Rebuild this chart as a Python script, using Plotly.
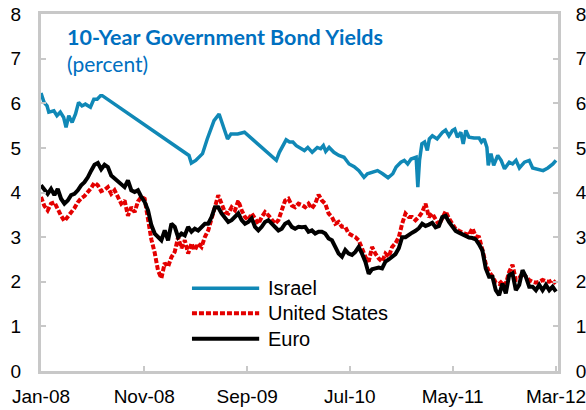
import pandas as pd
import plotly.graph_objects as go

# ---- data -----------------------------------------------------------------
# Israel: observations (note the missing stretch from mid-2008 to early 2009)
israel_dates = [
    "2008-01-01", "2008-01-10", "2008-01-19", "2008-01-24", "2008-02-08", "2008-02-17",
    "2008-02-27", "2008-03-08", "2008-03-15", "2008-03-23", "2008-04-02", "2008-04-12",
    "2008-04-21", "2008-05-01", "2008-05-11", "2008-05-26", "2008-06-05", "2008-06-15",
    "2008-06-25", "2008-06-30", "2009-03-13", "2009-03-20", "2009-04-02", "2009-04-22",
    "2009-05-06", "2009-05-26", "2009-06-10", "2009-06-20", "2009-07-05", "2009-07-15",
    "2009-08-04", "2009-08-24", "2009-10-02", "2009-11-11", "2009-11-26", "2009-12-05",
    "2009-12-15", "2009-12-25", "2010-01-04", "2010-01-14", "2010-01-24", "2010-02-03",
    "2010-02-17", "2010-02-27", "2010-03-12", "2010-03-27", "2010-04-06", "2010-04-14",
    "2010-04-21", "2010-05-01", "2010-05-15", "2010-05-30", "2010-06-14", "2010-06-29",
    "2010-07-14", "2010-07-28", "2010-08-12", "2010-08-22", "2010-09-07", "2010-09-21",
    "2010-10-06", "2010-10-22", "2010-11-05", "2010-11-15", "2010-11-29", "2010-12-09",
    "2010-12-19", "2010-12-29", "2011-01-13", "2011-01-18", "2011-01-23", "2011-01-30",
    "2011-02-07", "2011-02-15", "2011-02-21", "2011-03-02", "2011-03-16", "2011-04-01",
    "2011-04-10", "2011-04-20", "2011-04-30", "2011-05-07", "2011-05-15", "2011-05-25",
    "2011-06-01", "2011-06-09", "2011-06-18", "2011-07-03", "2011-07-18", "2011-07-25",
    "2011-08-02", "2011-08-10", "2011-08-14", "2011-08-22", "2011-08-30", "2011-09-11",
    "2011-09-21", "2011-10-01", "2011-10-15", "2011-10-25", "2011-11-04", "2011-11-14",
    "2011-11-29", "2011-12-13", "2011-12-23", "2012-01-08", "2012-01-23", "2012-02-06",
    "2012-02-21", "2012-03-01",
]
israel = [
    6.23, 6.02, 5.94, 5.80, 5.83, 5.72, 5.80, 5.68, 5.46, 5.72, 5.57, 5.76,
    6.02, 5.94, 5.98, 5.91, 6.09, 6.09, 6.17, 6.17, 4.83, 4.66, 4.72, 4.87,
    5.20, 5.61, 5.76, 5.54, 5.20, 5.31, 5.31, 5.35, 5.09, 4.83, 4.72, 4.90,
    5.05, 5.18, 5.13, 5.13, 5.05, 5.01, 4.94, 5.01, 4.90, 5.01, 4.98, 5.05,
    4.92, 5.01, 4.90, 4.83, 4.79, 4.64, 4.58, 4.49, 4.34, 4.42, 4.46, 4.49,
    4.42, 4.33, 4.42, 4.57, 4.68, 4.72, 4.64, 4.75, 4.79, 4.12, 4.72, 5.09,
    5.13, 4.94, 5.20, 5.27, 5.20, 5.35, 5.40, 5.27, 5.39, 5.42, 5.24, 5.35,
    5.09, 5.39, 5.24, 5.22, 5.22, 5.13, 5.20, 5.01, 4.61, 4.87, 4.61, 4.83,
    4.72, 4.53, 4.68, 4.64, 4.72, 4.55, 4.68, 4.72, 4.55, 4.51, 4.49, 4.55,
    4.64, 4.72,
]

# United States and Euro area: evenly spaced observations, Jan-2008 .. Mar-2012
sample_dates = pd.date_range("2008-01-01", "2012-03-01", periods=155)
united_states = [
    3.90, 3.70, 3.60, 3.75, 3.78, 3.62, 3.48, 3.36, 3.45, 3.54,
    3.65, 3.78, 3.87, 3.92, 4.00, 4.10, 4.22, 4.16, 4.03, 4.06,
    4.12, 3.97, 4.05, 3.92, 3.75, 3.82, 3.48, 3.67, 3.56, 3.80,
    3.90, 3.86, 3.40, 2.95, 2.65, 2.25, 2.08, 2.42, 2.34,
    2.55, 2.67, 3.00, 2.75, 2.93, 2.63, 2.86, 2.71, 2.86, 2.78,
    3.00, 3.15, 3.38, 3.67, 3.94, 3.75, 3.56, 3.53, 3.67, 3.60,
    3.82, 3.60, 3.45, 3.38, 3.53, 3.42, 3.30, 3.45, 3.56, 3.49,
    3.38, 3.30, 3.38, 3.60, 3.82, 3.86, 3.71, 3.67, 3.75,
    3.72,
    3.67, 3.75, 3.64, 3.75, 3.95, 3.82, 3.75, 3.53, 3.45, 3.30,
    3.34, 3.23, 3.23, 3.08, 3.04, 3.00, 2.93, 2.75, 2.56, 2.45,
    2.78, 2.63, 2.52, 2.45, 2.63, 2.56, 2.78, 2.86, 3.00, 3.30,
    3.53, 3.45, 3.45, 3.38, 3.45, 3.56, 3.75, 3.45,
    3.53, 3.40, 3.28, 3.42, 3.58, 3.42, 3.28, 3.18, 3.14, 3.10,
    3.07, 3.05, 3.20, 3.02, 3.00, 2.72, 2.40, 2.22, 2.12, 1.98,
    1.95, 2.02, 1.95, 2.22, 2.38, 2.04, 2.08, 2.19, 2.10, 2.04,
    2.00, 1.98, 2.00, 2.04, 2.01, 2.00, 2.04, 1.96,
]
euro = [
    4.16, 4.05, 3.97, 4.08, 3.94, 4.08, 3.86, 3.75, 3.82, 3.94,
    3.97, 4.05, 4.16, 4.23, 4.34, 4.49, 4.62, 4.66, 4.52, 4.62,
    4.57, 4.38, 4.31, 4.23, 4.16, 4.12, 4.27, 4.05, 4.01, 4.05,
    3.90, 3.79, 3.60, 3.27, 3.08, 3.00, 2.93, 3.15, 2.93,
    3.30, 3.23, 3.00, 3.08, 3.04, 3.23, 3.12, 3.19, 3.15, 3.23,
    3.30, 3.30, 3.45, 3.67, 3.67, 3.53, 3.42, 3.34, 3.38, 3.45,
    3.53, 3.38, 3.30, 3.34, 3.42, 3.23, 3.15, 3.23, 3.34, 3.38,
    3.30, 3.23, 3.15, 3.19, 3.30, 3.34, 3.23, 3.19, 3.23,
    3.22,
    3.23, 3.12, 3.15, 3.08, 3.12, 3.12, 3.08, 2.97, 2.93, 2.78,
    2.63, 2.56, 2.71, 2.63, 2.60, 2.67, 2.78, 2.63, 2.45, 2.18,
    2.28, 2.30, 2.32, 2.30, 2.45, 2.50, 2.56, 2.62, 2.75, 3.00,
    3.00, 3.06, 3.10, 3.14, 3.20, 3.30, 3.25, 3.28,
    3.32, 3.22, 3.25, 3.45, 3.48, 3.34, 3.22, 3.14, 3.10, 3.06,
    3.02, 2.99, 2.98, 2.95, 2.84, 2.70, 2.30, 2.11, 2.11, 1.81,
    1.70, 1.96, 1.74, 2.15, 2.19, 1.81, 1.93, 2.26, 2.11, 1.89,
    1.89, 1.81, 1.93, 1.81, 1.93, 1.81, 1.89, 1.78,
]

tick_dates = ["2008-01-01", "2008-11-01", "2009-09-01", "2010-07-01", "2011-05-01", "2012-03-01"]
tick_labels = ["Jan-08", "Nov-08", "Sep-09", "Jul-10", "May-11", "Mar-12"]
series_names = ["Israel", "United States", "Euro"]

# ---- styling ----------------------------------------------------------------
ISRAEL_BLUE = "#1088B6"
US_RED = "#E40000"
EURO_BLACK = "#000000"
TITLE_BLUE = "#0070C0"
FRAME_GREY = "#C8C8C8"
SANS = "Liberation Sans, Arial, sans-serif"
TITLE_FONT = "Lato, Carlito, Calibri, sans-serif"

line_styles = [
    dict(color=ISRAEL_BLUE, width=3.5),
    dict(color=US_RED, width=4, dash="5px,2px"),
    dict(color=EURO_BLACK, width=4),
]

fig = go.Figure()
fig.add_trace(go.Scatter(x=israel_dates, y=israel, mode="lines",
                         name=series_names[0], line=line_styles[0], showlegend=False))
fig.add_trace(go.Scatter(x=sample_dates, y=united_states, mode="lines",
                         name=series_names[1], line=line_styles[1], showlegend=False))
fig.add_trace(go.Scatter(x=sample_dates, y=euro, mode="lines",
                         name=series_names[2], line=line_styles[2], showlegend=False))


def axis_style(font_size, **extra):
    style = dict(
        showgrid=False, zeroline=False, automargin=False,
        showline=True, linecolor=FRAME_GREY, linewidth=3,
        ticks="inside", ticklen=5, tickwidth=2, tickcolor=FRAME_GREY,
        ticklabeloverflow="allow",
        tickfont=dict(family=SANS, size=font_size, color="#000000"),
    )
    style.update(extra)
    return style


fig.update_layout(
    width=586, height=410,
    margin=dict(l=41, r=28, t=14, b=39),
    paper_bgcolor="white", plot_bgcolor="white",
    xaxis=axis_style(
        19, mirror=True, type="date",
        range=["2008-01-01", "2012-03-07"],
        tickvals=tick_dates, ticktext=tick_labels,
        ticklabelstandoff=6,
    ),
    yaxis=axis_style(19, mirror=True, range=[0, 8], dtick=1, ticklabelstandoff=13),
    yaxis2=axis_style(19, overlaying="y", side="right", range=[0, 8], dtick=1,
                      ticklabelstandoff=11),
)

# keep the right-hand axis alive by attaching an invisible trace to it
fig.add_trace(go.Scatter(x=[tick_dates[0]], y=[0], yaxis="y2", mode="lines",
                         line=dict(width=0), hoverinfo="skip", showlegend=False))

# title block
fig.add_annotation(text="<b>10-Year Government Bond Yields</b>", xref="paper", yref="paper",
                   x=0.047, y=0.935, xanchor="left", yanchor="middle", showarrow=False,
                   font=dict(family=TITLE_FONT, size=21.5, color=TITLE_BLUE))
fig.add_annotation(text="(percent)", xref="paper", yref="paper",
                   x=0.047, y=0.862, xanchor="left", yanchor="middle", showarrow=False,
                   font=dict(family=TITLE_FONT, size=21, color=TITLE_BLUE))

# legend drawn as line samples with labels
legend_rows_y = [0.232, 0.162, 0.090]
for name, style, ly in zip(series_names, line_styles, legend_rows_y):
    fig.add_shape(type="line", xref="paper", yref="paper",
                  x0=0.292, x1=0.422, y0=ly, y1=ly, line=style)
    fig.add_annotation(text=name, xref="paper", yref="paper", x=0.436, y=ly,
                       xanchor="left", yanchor="middle", showarrow=False,
                       font=dict(family=SANS, size=20, color="#000000"))

fig.write_html("out.html")
